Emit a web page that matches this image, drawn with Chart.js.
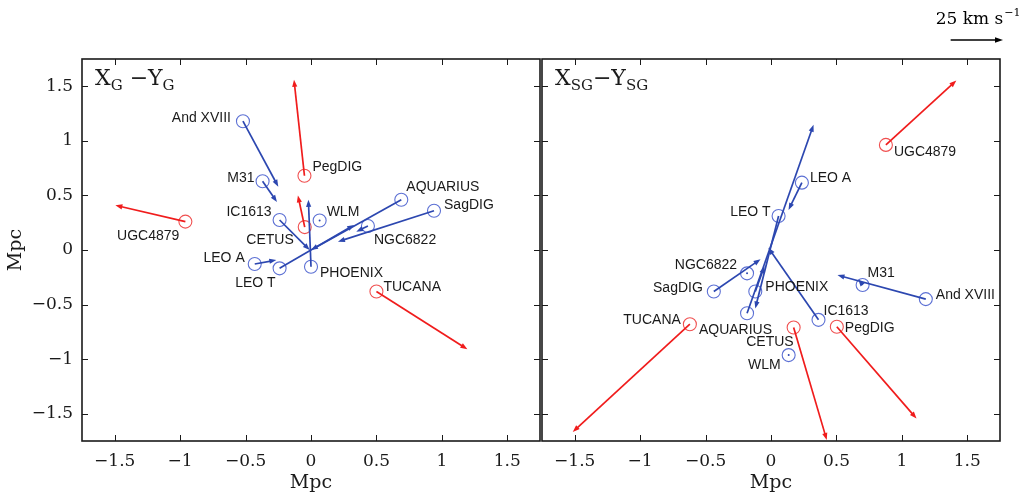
<!DOCTYPE html>
<html>
<head>
<meta charset="utf-8">
<script src="https://cdn.jsdelivr.net/npm/chart.js@4.4.1/dist/chart.umd.min.js"></script>
<style>
  html, body { margin: 0; padding: 0; background: #fff; }
  #wrap { position: relative; width: 1022px; height: 496px; overflow: hidden; }
  #cLeft { position: absolute; left: 0; top: 0; }
  #cRight { position: absolute; left: 541px; top: 0; }
</style>
</head>
<body>
<div id="wrap">
  <canvas id="cLeft" width="541" height="496"></canvas>
  <canvas id="cRight" width="481" height="496"></canvas>
</div>
<script>
// --- DATA ---
const galaxies = ['And XVIII', 'M31', 'PegDIG', 'IC1613', 'WLM', 'AQUARIUS', 'SagDIG',
                  'NGC6822', 'UGC4879', 'CETUS', 'LEO A', 'LEO T', 'PHOENIX', 'TUCANA'];
const redGalaxies = ['PegDIG', 'UGC4879', 'CETUS', 'TUCANA'];
const tickValues = [-1.5, -1, -0.5, 0, 0.5, 1, 1.5];

// X_G - Y_G plane (Mpc): positions and velocity arrow tips
const xG    = [-0.52, -0.37, -0.05, -0.24, 0.066, 0.69, 0.94, 0.435, -0.96, -0.048, -0.43, -0.24, 0.0, 0.50];
const yG    = [1.18, 0.63, 0.68, 0.275, 0.27, 0.46, 0.36, 0.22, 0.26, 0.21, -0.128, -0.168, -0.153, -0.38];
const tipXG = [-0.25, -0.26, -0.13, -0.01, 0.066, 0.0, 0.206, 0.346, -1.495, -0.10, -0.265, 0.33, -0.02, 1.195];
const tipYG = [0.58, 0.44, 1.56, 0.0, 0.27, 0.0, 0.076, 0.168, 0.41, 0.50, -0.092, 0.23, 0.46, -0.91];

// X_SG - Y_SG plane (Mpc)
const xSG    = [1.183, 0.70, 0.503, 0.363, 0.135, -0.183, -0.437, -0.183, 0.878, 0.173, 0.236, 0.058, -0.12, -0.62];
const ySG    = [-0.45, -0.32, -0.703, -0.64, -0.963, -0.58, -0.38, -0.214, 0.963, -0.71, 0.617, 0.312, -0.38, -0.68];
const tipXSG = [0.508, 0.667, 1.112, -0.02, 0.135, 0.325, -0.08, -0.183, 1.416, 0.426, 0.134, -0.12, -0.05, -1.515];
const tipYSG = [-0.23, -0.27, -1.544, 0.02, -0.963, 1.147, -0.085, -0.214, 1.553, -1.74, 0.367, -0.535, -0.15, -1.667];

const scaleArrowLen = 0.4;   // Mpc length of the 25 km/s reference arrow

// label placement: [dx, dy, align] in pixels from the circle
const labelsG = {
  'And XVIII': [-12, -3, 'right'], 'M31': [-8, -3, 'right'], 'PegDIG': [8, -9, 'left'],
  'IC1613': [-8, -8, 'right'], 'WLM': [7, -8, 'left'], 'AQUARIUS': [5, -13, 'left'],
  'SagDIG': [10, -6, 'left'], 'NGC6822': [6, 14, 'left'], 'UGC4879': [-6, 15, 'right'],
  'CETUS': [-11, 13, 'right'], 'LEO A': [-10, -6, 'right'], 'LEO T': [-4, 15, 'right'],
  'PHOENIX': [9, 6, 'left'], 'TUCANA': [7, -4, 'left']
};
const labelsSG = {
  'And XVIII': [10, -4, 'left'], 'M31': [5, -12, 'left'], 'PegDIG': [8, 1, 'left'],
  'IC1613': [5, -9, 'left'], 'WLM': [-8, 10, 'right'], 'AQUARIUS': [25, 17, 'right'],
  'SagDIG': [-11, -3, 'right'], 'NGC6822': [-10, -8, 'right'], 'UGC4879': [8, 7, 'left'],
  'CETUS': [0, 15, 'right'], 'LEO A': [8, -5, 'left'], 'LEO T': [-8, -4, 'right'],
  'PHOENIX': [10, -4, 'left'], 'TUCANA': [-9, -4, 'right']
};

const BLUE_LINE = '#2c47b0';
const BLUE_CIRC = '#5c70d4';
const RED_LINE = '#f01c1c';
const RED_CIRC = '#f05050';
const SERIF = "'DejaVu Serif', serif";
const SANS = "'Liberation Sans', Arial, sans-serif";

const fmt = v => (v < 0 ? '\u2212' + Math.abs(v) : String(v));

function drawArrow(ctx, x0, y0, x1, y1, color) {
  const dx = x1 - x0, dy = y1 - y0;
  const len = Math.hypot(dx, dy);
  ctx.strokeStyle = color;
  ctx.fillStyle = color;
  if (len < 2) {
    ctx.beginPath();
    ctx.arc(x0, y0, 1, 0, Math.PI * 2);
    ctx.fill();
    return;
  }
  const ux = dx / len, uy = dy / len;
  const hl = 7, hw = 2.6;
  ctx.lineWidth = 1.7;
  ctx.beginPath();
  ctx.moveTo(x0, y0);
  ctx.lineTo(x1 - ux * hl * 0.6, y1 - uy * hl * 0.6);
  ctx.stroke();
  ctx.beginPath();
  ctx.moveTo(x1, y1);
  ctx.lineTo(x1 - ux * hl - uy * hw, y1 - uy * hl + ux * hw);
  ctx.lineTo(x1 - ux * hl + uy * hw, y1 - uy * hl - ux * hw);
  ctx.closePath();
  ctx.fill();
}

function drawTitle(ctx, x, y, parts) {
  // parts: [text, isSub]
  let cx = x;
  parts.forEach(([t, sub]) => {
    ctx.font = (sub ? '15px ' : '22px ') + SERIF;
    ctx.fillText(t, cx, sub ? y + 5 : y);
    cx += ctx.measureText(t).width;
  });
}

function makePanel(canvasId, xs, ys, tipXs, tipYs, labels, opts) {
  const isRed = galaxies.map(g => redGalaxies.includes(g));
  const bluePts = [], redPts = [];
  galaxies.forEach((g, i) => (isRed[i] ? redPts : bluePts).push({ x: xs[i], y: ys[i] }));

  const overlay = {
    id: 'overlay',
    afterDatasetsDraw(chart) {
      const { ctx, chartArea: a, scales: { x, y } } = chart;
      ctx.save();
      ctx.beginPath();
      ctx.rect(a.left, a.top, a.right - a.left, a.bottom - a.top);
      ctx.clip();
      galaxies.forEach((g, i) => {
        drawArrow(ctx, x.getPixelForValue(xs[i]), y.getPixelForValue(ys[i]),
          x.getPixelForValue(tipXs[i]), y.getPixelForValue(tipYs[i]),
          isRed[i] ? RED_LINE : BLUE_LINE);
      });
      ctx.restore();

      // galaxy names
      ctx.save();
      ctx.font = '14px ' + SANS;
      ctx.fillStyle = '#1a1a1a';
      ctx.textBaseline = 'middle';
      galaxies.forEach((g, i) => {
        const [dx, dy, al] = labels[g];
        ctx.textAlign = al;
        ctx.fillText(g, x.getPixelForValue(xs[i]) + dx, y.getPixelForValue(ys[i]) + dy);
      });
      ctx.restore();
    },
    afterDraw(chart) {
      const { ctx, chartArea: a, scales: { x, y } } = chart;
      ctx.save();
      // frame
      ctx.strokeStyle = '#1a1a1a';
      ctx.lineWidth = 1.6;
      ctx.strokeRect(a.left, a.top, a.right - a.left, a.bottom - a.top);
      // inward tick marks on all four sides
      ctx.lineWidth = 1;
      ctx.beginPath();
      tickValues.forEach(v => {
        const px = Math.round(x.getPixelForValue(v)) + 0.5;
        const py = Math.round(y.getPixelForValue(v)) + 0.5;
        ctx.moveTo(px, a.bottom); ctx.lineTo(px, a.bottom - 6);
        ctx.moveTo(px, a.top); ctx.lineTo(px, a.top + 6);
        ctx.moveTo(a.left, py); ctx.lineTo(a.left + 6, py);
        ctx.moveTo(a.right, py); ctx.lineTo(a.right - 6, py);
      });
      ctx.stroke();

      // axis titles
      ctx.fillStyle = '#1a1a1a';
      ctx.font = '19px ' + SERIF;
      ctx.textAlign = 'center';
      ctx.textBaseline = 'middle';
      ctx.fillText('Mpc', (a.left + a.right) / 2, 483);
      if (opts.yTitle) {
        ctx.save();
        ctx.translate(16, (a.top + a.bottom) / 2);
        ctx.rotate(-Math.PI / 2);
        ctx.fillText('Mpc', 0, 0);
        ctx.restore();
      }

      // panel title
      ctx.textAlign = 'left';
      ctx.textBaseline = 'alphabetic';
      drawTitle(ctx, a.left + 13, a.top + 26, opts.title);

      // reference arrow: 25 km/s
      if (opts.scaleArrow) {
        const x1 = a.right + 3;
        const x0 = x1 - (x.getPixelForValue(scaleArrowLen) - x.getPixelForValue(0));
        ctx.strokeStyle = '#000';
        ctx.fillStyle = '#000';
        ctx.lineWidth = 1.6;
        ctx.beginPath();
        ctx.moveTo(x0, 40); ctx.lineTo(x1 - 5, 40); ctx.stroke();
        ctx.beginPath();
        ctx.moveTo(x1, 40); ctx.lineTo(x1 - 8, 37.3); ctx.lineTo(x1 - 8, 42.7); ctx.closePath(); ctx.fill();
        ctx.font = '17px ' + SERIF;
        ctx.textAlign = 'left';
        const base = '25 km s';
        const w = ctx.measureText(base).width;
        const sx = x0 - 15;
        ctx.fillText(base, sx, 24);
        ctx.font = '11px ' + SERIF;
        ctx.fillText('\u22121', sx + w + 1, 16);
      }
      ctx.restore();
    }
  };

  const axisTicks = {
    font: { family: SERIF, size: 17 },
    color: '#1a1a1a',
    callback: v => fmt(v),
    autoSkip: false,
    maxRotation: 0
  };

  return new Chart(document.getElementById(canvasId), {
    type: 'scatter',
    data: {
      datasets: [
        { data: bluePts, borderColor: BLUE_CIRC, backgroundColor: 'rgba(0,0,0,0)', pointRadius: 6.5, pointBorderWidth: 1.1 },
        { data: redPts, borderColor: RED_CIRC, backgroundColor: 'rgba(0,0,0,0)', pointRadius: 6.5, pointBorderWidth: 1.1 }
      ]
    },
    options: {
      responsive: false,
      animation: false,
      layout: { padding: opts.padding, autoPadding: false },
      plugins: { legend: { display: false }, tooltip: { enabled: false } },
      scales: {
        x: {
          type: 'linear', min: -1.75, max: 1.75,
          afterBuildTicks: s => { s.ticks = tickValues.map(v => ({ value: v })); },
          afterFit: s => { s.height = 55; s.paddingLeft = 0; s.paddingRight = 0; },
          grid: { display: false, drawTicks: false },
          border: { display: false },
          ticks: Object.assign({ padding: 10 }, axisTicks)
        },
        y: {
          type: 'linear', min: -1.75, max: 1.75,
          display: opts.yTicks,
          afterBuildTicks: s => { s.ticks = tickValues.map(v => ({ value: v })); },
          afterFit: s => { s.width = opts.yTicks ? 82 : 0; s.paddingTop = 0; s.paddingBottom = 0; },
          grid: { display: false, drawTicks: false },
          border: { display: false },
          ticks: Object.assign({ padding: 9 }, axisTicks)
        }
      }
    },
    plugins: [overlay]
  });
}

makePanel('cLeft', xG, yG, tipXG, tipYG, labelsG, {
  padding: { left: 0, top: 59, right: 1, bottom: 0 },
  yTicks: true, yTitle: true, scaleArrow: false,
  title: [['X', false], ['G', true], [' \u2212Y', false], ['G', true]]
});

makePanel('cRight', xSG, ySG, tipXSG, tipYSG, labelsSG, {
  padding: { left: 1, top: 59, right: 22, bottom: 0 },
  yTicks: false, yTitle: false, scaleArrow: true,
  title: [['X', false], ['SG', true], ['\u2212Y', false], ['SG', true]]
});
</script>
</body>
</html>
